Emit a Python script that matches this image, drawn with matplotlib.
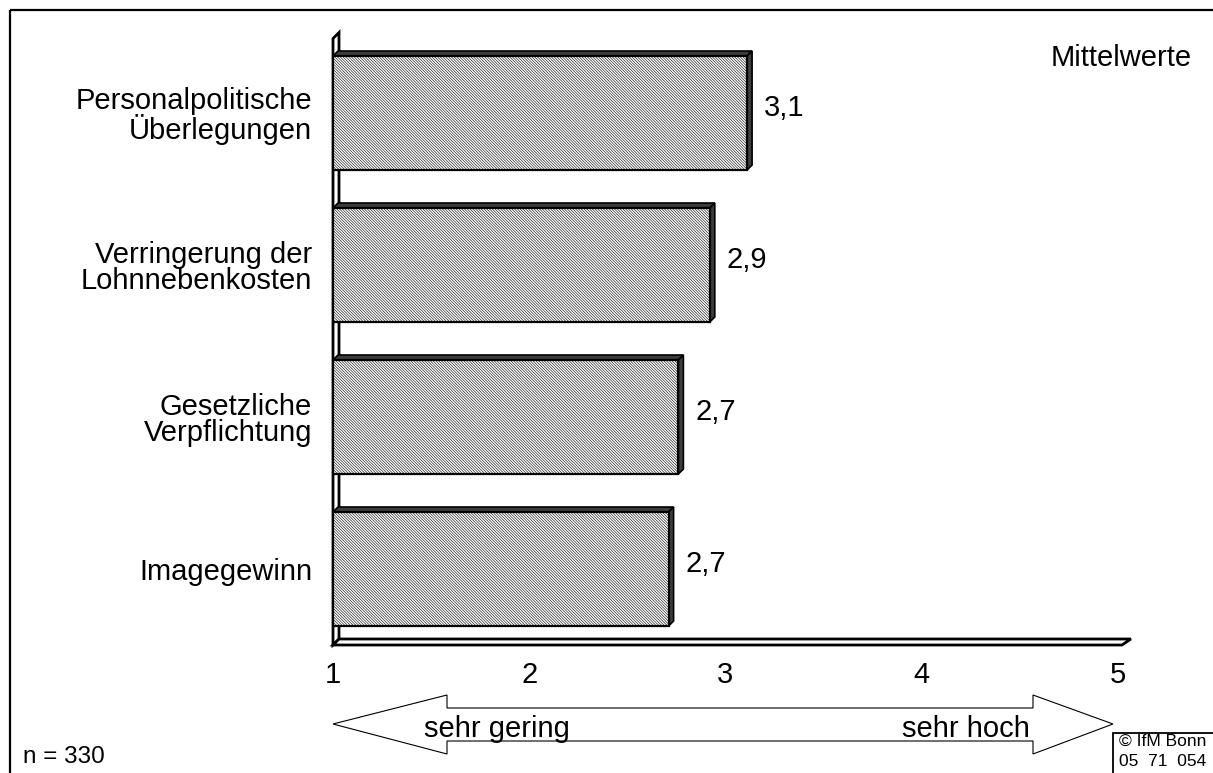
import matplotlib
matplotlib.use("Agg")
import matplotlib.pyplot as plt
from matplotlib.patches import Polygon, Rectangle

plt.rcParams['font.family'] = ['Liberation Sans', 'DejaVu Sans']
plt.rcParams['hatch.color'] = '#c2c2c2'
plt.rcParams['hatch.linewidth'] = 0.4

categories = ["Personalpolitische\n\u00dcberlegungen",
              "Verringerung der\nLohnnebenkosten",
              "Gesetzliche\nVerpflichtung",
              "Imagegewinn"]
values = [3.11, 2.92, 2.76, 2.71]
value_labels = ["3,1", "2,9", "2,7", "2,7"]
ticks = [1, 2, 3, 4, 5]

W, H = 1213, 773
fig = plt.figure(figsize=(W / 100, H / 100), dpi=100)

# background layer in pixel coordinates for frame, arrow etc.
bg = fig.add_axes([0, 0, 1, 1])
bg.set_xlim(0, W)
bg.set_ylim(H, 0)
bg.axis('off')

ax = fig.add_axes([333 / W, (H - 645) / H, 785 / W, 4.05 * 152 / H])
ax.set_xlim(1, 5)
ax.set_ylim(-0.5, 3.55)
ax.axis('off')

# size of one pixel in data units
px_x = 4 / 785
px_y = 1 / 152
d = 5    # depth of bars in px
dw = 6   # depth of wall / floor in px

# wall and floor
wall_top = 3.49
ax.add_patch(Polygon([(1, -0.5), (1, wall_top), (1 + dw * px_x, wall_top + dw * px_y),
                      (1 + dw * px_x, -0.5 + dw * px_y)],
                     closed=True, facecolor='white', edgecolor='black', lw=2, zorder=1,
                     clip_on=False))
floor_end = 5.02
ax.add_patch(Polygon([(1, -0.5), (floor_end, -0.5), (floor_end + 1.5 * dw * px_x, -0.5 + dw * px_y),
                      (1 + dw * px_x, -0.5 + dw * px_y)],
                     closed=True, facecolor='white', edgecolor='black', lw=2, zorder=1,
                     clip_on=False))

ypos = [3, 2, 1, 0]
h = 0.75
bars = ax.barh(ypos, [v - 1 for v in values], left=1, height=h, color='white',
               edgecolor='black', lw=1.6, hatch='\\' * 12, zorder=3)

for y, v in zip(ypos, values):
    y0, y1 = y - h / 2, y + h / 2
    top = [(1, y1), (v, y1), (v + d * px_x, y1 + d * px_y), (1 + d * px_x, y1 + d * px_y)]
    side = [(v, y0), (v, y1), (v + d * px_x, y1 + d * px_y), (v + d * px_x, y0 + d * px_y)]
    for pts in (top, side):
        ax.add_patch(Polygon(pts, closed=True, facecolor='#3c3c3c', edgecolor='black',
                             lw=1.2, zorder=2))

for y, v, lab in zip(ypos, values, value_labels):
    ax.annotate(lab, xy=(v, y), xytext=(17, 5), textcoords='offset pixels',
                ha='left', va='center', fontsize=21, annotation_clip=False)

for y, cat in zip(ypos, categories):
    ax.annotate(cat, xy=(1, y), xytext=(-21, -3), textcoords='offset pixels',
                ha='right', va='center', multialignment='right', fontsize=21,
                linespacing=0.93, annotation_clip=False)

for t in ticks:
    ax.annotate(str(t), xy=(t, -0.5), xytext=(0, -30), textcoords='offset pixels',
                ha='center', va='center', fontsize=21, annotation_clip=False)

# outer frame
bg.add_patch(Rectangle((10, 10), 1400, 1000, fill=False, edgecolor='black', lw=1.6))

bg.text(1192, 58, "Mittelwerte", ha='right', va='center', fontsize=21)

# double arrow
arrow = [(333, 724), (447, 695), (447, 708), (1033, 708), (1033, 695), (1113, 724),
         (1033, 754), (1033, 741), (447, 741), (447, 754)]
bg.add_patch(Polygon(arrow, closed=True, facecolor='white', edgecolor='black', lw=0.8))
bg.text(424, 737, "sehr gering", ha='left', va='baseline', fontsize=21)
bg.text(1030, 737, "sehr hoch", ha='right', va='baseline', fontsize=21)

bg.text(23, 757, "n = 330", ha='left', va='center', fontsize=17.5)

bg.add_patch(Rectangle((1113, 733), 200, 100, facecolor='white', edgecolor='black', lw=1.3))
bg.text(1119, 746, "\u00a9 IfM Bonn", ha='left', va='baseline', fontsize=12.5)
bg.text(1119, 766, "05  71  054", ha='left', va='baseline', fontsize=12.5)

fig.savefig("out.png", dpi=100)
